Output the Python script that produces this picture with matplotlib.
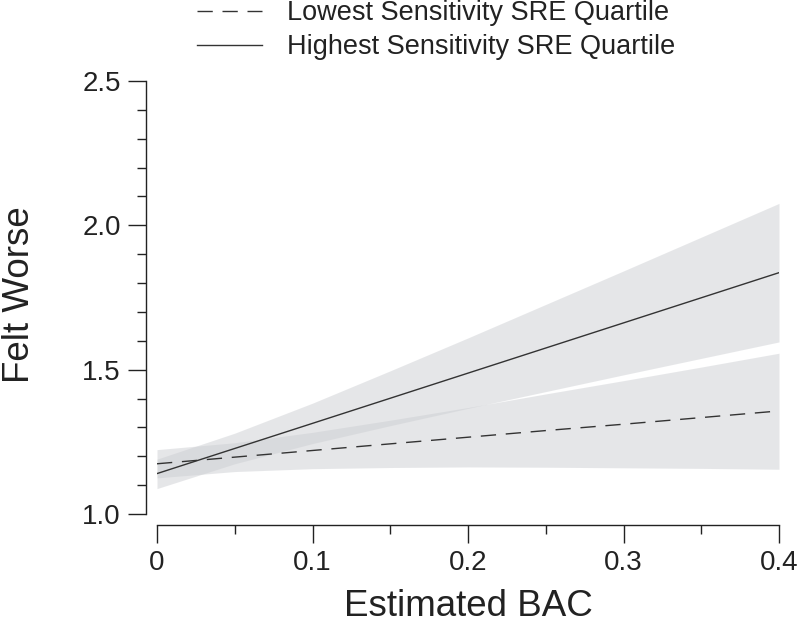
import numpy as np
import matplotlib.pyplot as plt
from matplotlib.ticker import MultipleLocator

plt.rcParams['font.family'] = ['Liberation Sans', 'DejaVu Sans']

# estimated BAC grid
bac = [0, 0.05, 0.1, 0.15, 0.2, 0.25, 0.3, 0.35, 0.4]

# lowest sensitivity quartile (dashed)
low_fit = [1.174, 1.197, 1.220, 1.243, 1.266, 1.289, 1.311, 1.334, 1.357]
low_upper = [1.223, 1.247, 1.283, 1.325, 1.369, 1.416, 1.462, 1.509, 1.557]
low_lower = [1.125, 1.147, 1.157, 1.161, 1.163, 1.162, 1.160, 1.158, 1.155]

# highest sensitivity quartile (solid)
high_fit = [1.140, 1.227, 1.314, 1.401, 1.488, 1.575, 1.662, 1.749, 1.836]
high_upper = [1.190, 1.280, 1.384, 1.496, 1.610, 1.726, 1.842, 1.959, 2.076]
high_lower = [1.088, 1.174, 1.244, 1.306, 1.366, 1.424, 1.482, 1.539, 1.596]

labels = ['Lowest Sensitivity SRE Quartile', 'Highest Sensitivity SRE Quartile']

fig = plt.figure(figsize=(8, 6.25), dpi=100)
ax = fig.add_axes([157/800, 111/625, 622/800, 433/625])

band_color = '#cdcfd3'
ax.fill_between(bac, low_lower, low_upper, color=band_color, alpha=0.5, lw=0)
ax.fill_between(bac, high_lower, high_upper, color=band_color, alpha=0.5, lw=0)
ax.plot(bac, low_fit, color='#333333', lw=1.0, dashes=(11, 7), label=labels[0])
ax.plot(bac, high_fit, color='#333333', lw=1.0, label=labels[1])

ax.set_xlim(0, 0.4)
ax.set_ylim(1.0, 2.5)

# base-R style detached axes
for s in ['top', 'right']:
    ax.spines[s].set_visible(False)
ax.spines['left'].set_position(('outward', 8))
ax.spines['bottom'].set_position(('outward', 8))
ax.spines['left'].set_bounds(1.0, 2.5)
ax.spines['bottom'].set_bounds(0, 0.4)
for s in ['left', 'bottom']:
    ax.spines[s].set_linewidth(1.0)
    ax.spines[s].set_color('#222222')

ax.set_xticks([0, 0.1, 0.2, 0.3, 0.4])
ax.set_xticklabels(['0', '0.1', '0.2', '0.3', '0.4'])
ax.set_yticks([1.0, 1.5, 2.0, 2.5])
ax.set_yticklabels(['1.0', '1.5', '2.0', '2.5'])
ax.xaxis.set_minor_locator(MultipleLocator(0.05))
ax.yaxis.set_minor_locator(MultipleLocator(0.1))
ax.tick_params(which='major', length=13, width=1.0, color='#222222',
               labelsize=20, labelcolor='#222222')
ax.tick_params(which='minor', length=6.5, width=1.0, color='#222222')
ax.tick_params(axis='x', which='major', pad=5)
ax.tick_params(axis='y', which='major', pad=5)

fig.text(468/800, 1 - 607/625, 'Estimated BAC', ha='center', va='center',
         fontsize=26.5, color='#222222')
fig.text(20/800, 1 - 295/625, 'Felt Worse', ha='center', va='center',
         rotation=90, fontsize=26.5, color='#222222')

ax.legend(loc='upper left', bbox_to_anchor=(197/800, 1.0),
          bbox_transform=fig.transFigure, frameon=False, fontsize=19.5,
          handlelength=2.4, handletextpad=0.93, labelspacing=0.3,
          borderaxespad=0, borderpad=0)
for t in ax.get_legend().get_texts():
    t.set_color('#222222')

fig.savefig('out.png', dpi=100)
